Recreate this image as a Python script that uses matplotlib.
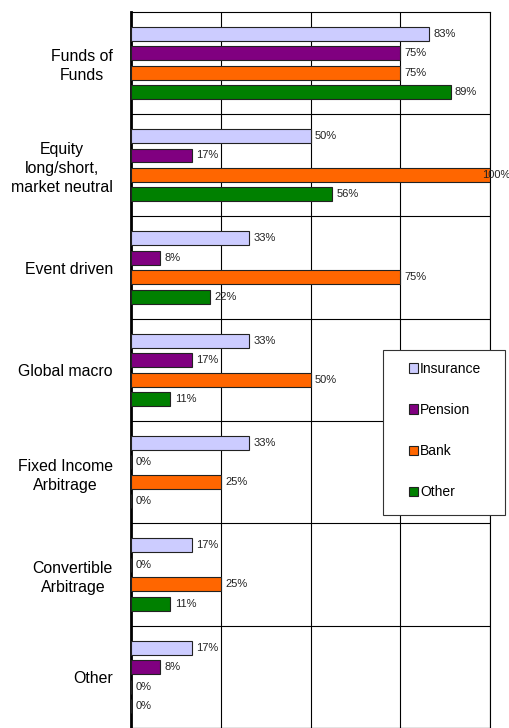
import matplotlib.pyplot as plt
import matplotlib.transforms as mtransforms
from matplotlib.patches import Rectangle
import numpy as np

categories = ["Funds of\nFunds", "Equity\nlong/short,\nmarket neutral", "Event driven",
              "Global macro", "Fixed Income\nArbitrage", "Convertible\nArbitrage", "Other"]
series = ["Insurance", "Pension", "Bank", "Other"]
insurance = [83, 50, 33, 33, 33, 17, 17]
pension = [75, 17, 8, 17, 0, 0, 8]
bank = [75, 100, 75, 50, 25, 25, 0]
other = [89, 56, 22, 11, 0, 11, 0]
colors = ["#CCCCFF", "#800080", "#FF6600", "#008000"]

plt.rcParams['font.family'] = ['Liberation Sans', 'DejaVu Sans']

W, H = 510, 728
top_px = 11.7
band_px = 103.3
fig = plt.figure(figsize=(W / 100, H / 100), dpi=100)
ax = fig.add_axes([131 / W, 0, 359 / W, (H - top_px) / H])
edge_tr = mtransforms.blended_transform_factory(ax.transAxes, ax.transData)

y = np.arange(len(categories))
step = 0.19
height = 0.136
for k, (name, vals) in enumerate(zip(series, [insurance, pension, bank, other])):
    pos = y + (k - 1.5) * step
    ax.barh(pos, vals, height=height, color=colors[k], edgecolor="#222222",
            linewidth=0.8, label=name, zorder=3)
    for p, v in zip(pos, vals):
        if v >= 100:
            # label pushed back inside the picture, as in the original
            ax.text(1.0 + 20 / 359, p, f"{v}%", va="center", ha="right", fontsize=8,
                    color="#222222", zorder=4, transform=edge_tr, clip_on=False)
        else:
            ax.text(v + 1.2, p, f"{v}%", va="center", ha="left", fontsize=8,
                    color="#222222", zorder=4, clip_on=False)

ax.set_xlim(0, 100)
ax.set_ylim(-0.5 + (H - top_px) / band_px, -0.5)
ax.set_xticks([0, 25, 50, 75, 100])
ax.set_xticklabels([])
ax.xaxis.grid(True, color="black", linewidth=0.8, zorder=0)
ax.set_yticks(y)
ax.set_yticklabels(categories, fontsize=11.4, multialignment="center", linespacing=1.33)
ax.set_yticks(np.arange(len(categories)) + 0.5, minor=True)
ax.yaxis.grid(True, which="minor", color="black", linewidth=0.8, zorder=0)
ax.tick_params(axis="y", which="both", length=0, pad=13)
ax.tick_params(axis="x", length=0)
for s in ["top", "right", "bottom"]:
    ax.spines[s].set_linewidth(0.8)
ax.spines["left"].set_linewidth(2)

# legend box drawn by hand so its padding matches the original
box = Rectangle((383 / W, 1 - 515 / H), 122 / W, 165 / H, transform=fig.transFigure,
                facecolor="white", edgecolor="#333333", linewidth=0.8, zorder=5)
fig.patches.append(box)
leg = fig.legend(loc="center left", bbox_to_anchor=(409 / W, 1 - 430.5 / H),
                 bbox_transform=fig.transFigure, fontsize=10, frameon=False,
                 handlelength=0.65, handleheight=0.65, handletextpad=0.15,
                 labelspacing=1.95, borderpad=0, borderaxespad=0)
leg.set_zorder(6)

fig.savefig("out.png", dpi=100)
